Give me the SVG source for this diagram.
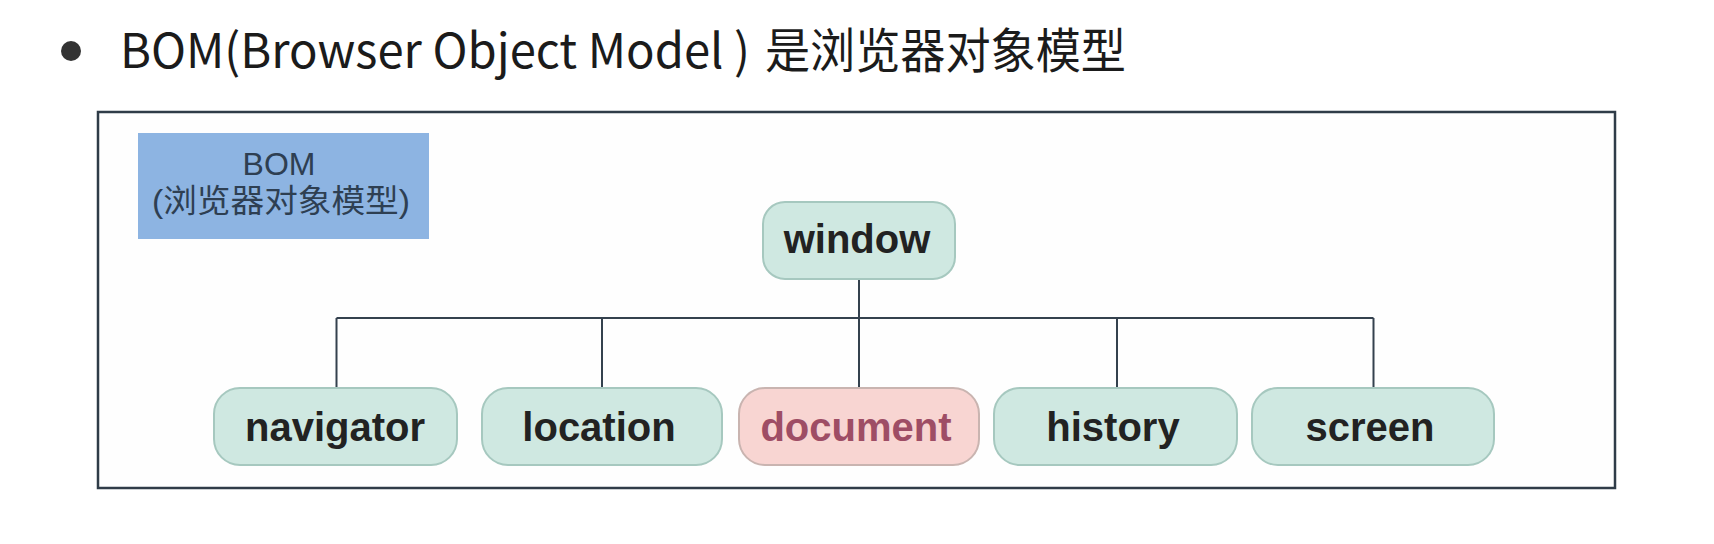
<svg xmlns="http://www.w3.org/2000/svg" width="1714" height="544" viewBox="0 0 1714 544">
<style>
.title{font-family:"Noto Sans CJK SC","Noto Sans",sans-serif;font-size:48px;fill:#1b1b1b}
.node rect{fill:#cfe8e1;stroke:#a6c8bf;stroke-width:2}
.node text{font-family:"Liberation Sans","Noto Sans CJK SC",sans-serif;font-size:40px;font-weight:bold;fill:#222;text-anchor:middle}
#document rect{fill:#f8d5d2;stroke:#c9b4b0}
#document text{fill:#9e4d65}
.bom text{font-family:"Liberation Sans","Noto Sans CJK SC",sans-serif;font-size:32px;fill:#2e3f52;text-anchor:middle}
.conn{stroke:#34414e;stroke-width:2;fill:none}
</style>
<rect width="1714" height="544" fill="#ffffff"/>
<g id="heading">
<circle cx="71" cy="51" r="10" fill="#333"/>
<text class="title" x="120" y="68" textLength="630" lengthAdjust="spacingAndGlyphs">BOM(Browser Object Model )</text>
<text class="title" x="765" y="68" font-size="50" textLength="361" lengthAdjust="spacingAndGlyphs">是浏览器对象模型</text>
</g>
<rect id="frame" x="98" y="112" width="1517" height="376" fill="#fefefe" stroke="#2f3c48" stroke-width="2.5"/>
<g id="bom-label" class="bom">
<rect x="138" y="133" width="291" height="106" fill="#8db4e2"/>
<text x="279" y="175">BOM</text>
<text x="281" y="212" textLength="258" lengthAdjust="spacingAndGlyphs">(浏览器对象模型)</text>
</g>
<g id="connectors" class="conn">
<line x1="859" y1="279" x2="859" y2="388"/>
<line x1="336.5" y1="318" x2="1373.5" y2="318"/>
<line x1="336.5" y1="318" x2="336.5" y2="388"/>
<line x1="602" y1="318" x2="602" y2="388"/>
<line x1="1117" y1="318" x2="1117" y2="388"/>
<line x1="1373.5" y1="318" x2="1373.5" y2="388"/>
</g>
<g id="window" class="node">
<rect x="763" y="202" width="192" height="77" rx="22"/>
<text x="857" y="253">window</text>
</g>
<g id="navigator" class="node">
<rect x="214" y="388" width="243" height="77" rx="26"/>
<text x="335" y="441">navigator</text>
</g>
<g id="location" class="node">
<rect x="482" y="388" width="240" height="77" rx="26"/>
<text x="599" y="441">location</text>
</g>
<g id="document" class="node">
<rect x="739" y="388" width="240" height="77" rx="26"/>
<text x="856" y="441">document</text>
</g>
<g id="history" class="node">
<rect x="994" y="388" width="243" height="77" rx="26"/>
<text x="1113" y="441">history</text>
</g>
<g id="screen" class="node">
<rect x="1252" y="388" width="242" height="77" rx="26"/>
<text x="1370" y="441">screen</text>
</g>
</svg>
